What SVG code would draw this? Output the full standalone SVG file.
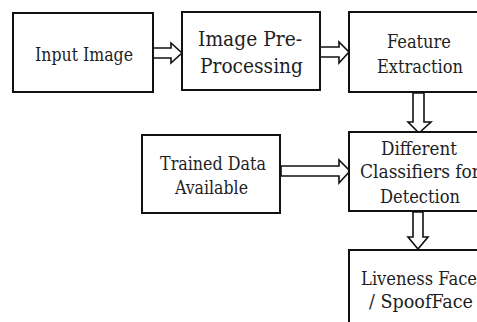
<svg xmlns="http://www.w3.org/2000/svg" width="477" height="322" viewBox="0 0 477 322">
<style>
.box{fill:#fff;stroke:#111;stroke-width:2}
.t{font-family:"DejaVu Serif Condensed","DejaVu Serif","Noto Serif",serif;font-stretch:condensed;font-size:18px;fill:#1e1e1e;text-anchor:middle}
.big{font-size:20.5px}
.arr{fill:#fff;stroke:#111;stroke-width:1.6;stroke-linejoin:miter}
</style>
<rect width="477" height="322" fill="#fff"/>
<g id="connectors">
<polygon class="arr" points="153,48 171,48 171,43 182,53 171,63 171,58 153,58"/>
<polygon class="arr" points="320,47 339,47 339,42 349,52 339,63 339,57 320,57"/>
<polygon class="arr" points="413,93 424,93 424,122 431,122 419,133 408,122 413,122"/>
<polygon class="arr" points="281,166 339,166 339,160 350,171 339,183 339,176 281,176"/>
<polygon class="arr" points="413,212 423,212 423,237 428,237 418,249 408,237 413,237"/>
</g>
<g id="input-image">
<rect class="box" x="13" y="13" width="140" height="79"/>
<text class="t" x="84" y="61" textLength="98" lengthAdjust="spacingAndGlyphs">Input Image</text>
</g>
<g id="pre-processing">
<rect class="box" x="182" y="12" width="138" height="78"/>
<text class="t big" x="250" y="46" textLength="104" lengthAdjust="spacingAndGlyphs">Image Pre-</text>
<text class="t big" x="251.5" y="73" textLength="103" lengthAdjust="spacingAndGlyphs">Processing</text>
</g>
<g id="feature-extraction">
<rect class="box" x="349" y="12" width="140" height="80"/>
<text class="t" x="419" y="48" textLength="64" lengthAdjust="spacingAndGlyphs">Feature</text>
<text class="t" x="420" y="73" textLength="86" lengthAdjust="spacingAndGlyphs">Extraction</text>
</g>
<g id="trained-data">
<rect class="box" x="142" y="135" width="138" height="78"/>
<text class="t" x="213" y="170" textLength="106" lengthAdjust="spacingAndGlyphs">Trained Data</text>
<text class="t" x="211.5" y="194" textLength="73" lengthAdjust="spacingAndGlyphs">Available</text>
</g>
<g id="classifiers">
<rect class="box" x="349" y="132" width="140" height="79"/>
<text class="t" x="419" y="155" textLength="76" lengthAdjust="spacingAndGlyphs">Different</text>
<text class="t" x="420" y="178" textLength="120" lengthAdjust="spacingAndGlyphs">Classifiers for</text>
<text class="t" x="420" y="203" textLength="80" lengthAdjust="spacingAndGlyphs">Detection</text>
</g>
<g id="liveness">
<rect class="box" x="349" y="250" width="140" height="80"/>
<text class="t" x="419" y="285" textLength="116" lengthAdjust="spacingAndGlyphs">Liveness Face</text>
<text class="t" x="421" y="308" textLength="104" lengthAdjust="spacingAndGlyphs">/ SpoofFace</text>
</g>
</svg>
